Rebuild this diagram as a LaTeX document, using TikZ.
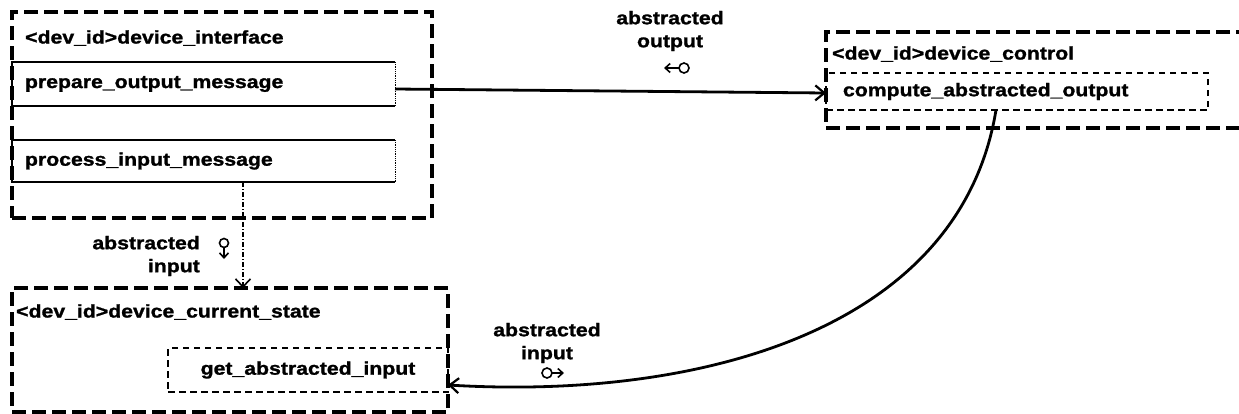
\documentclass[tikz,border=0pt]{standalone}
\usepackage{fontspec}
\setmainfont{Liberation Sans}[FakeStretch=1.16, BoldFeatures={FakeBold=1.3}]
\usetikzlibrary{arrows.meta,calc}
\begin{document}
\begin{tikzpicture}[x=1pt,y=-1pt,
  txt/.style={font=\bfseries\fontsize{18.3}{23}\selectfont, inner sep=0pt},
  outerbox/.style={draw, line width=3.2pt, dash pattern=on 14pt off 6pt, inner sep=0pt, outer sep=0pt, anchor=north west},
  solidbox/.style={txt, inner xsep=13pt, inner ysep=0pt, outer sep=0pt, anchor=north west, align=left},
  dashbox/.style={txt, draw, line width=1.6pt, dash pattern=on 6.5pt off 4.5pt, outer sep=0pt, anchor=north west},
  flow/.style={line width=2.8pt, -{Straight Barb[length=9pt,width=15pt,line width=2.2pt]}},
  ddline/.style={line width=1.1pt, dash pattern=on 5pt off 2pt on 1pt off 2pt, -{Straight Barb[length=8pt,width=15pt,line width=1.6pt]}},
  sym/.style={line width=1.6pt},
  symarrow/.style={line width=1.6pt, -{Straight Barb[length=5pt,width=9pt,line width=1.6pt]}},
  lbl/.style={txt, align=center}
]
\useasboundingbox (0,0) rectangle (1239,413);

% outer dashed boxes
\node[outerbox, minimum width=420pt, minimum height=206pt] (di) at (12,12) {};
\node[outerbox, minimum width=424pt, minimum height=96pt] (dc) at (826,32) {};
\node[outerbox, minimum width=436pt, minimum height=124pt] (cs) at (12,288) {};

% titles
\node[txt, anchor=west] (dititle) at (25,38) {<dev\_id>device\_interface};
\node[txt, anchor=west] (dctitle) at (832,54) {<dev\_id>device\_control};
\node[txt, anchor=west] (cstitle) at (16,312) {<dev\_id>device\_current\_state};

% inner boxes of device_interface
\node[solidbox, text width=357pt, minimum height=44pt] (prepare) at (12,62) {prepare\_output\_message};
\node[solidbox, text width=357pt, minimum height=42pt] (process) at (12,140) {process\_input\_message};
\draw[line width=1.6pt] (prepare.north east) -- (prepare.north west) -- (prepare.south west) -- (prepare.south east);
\draw[line width=0.8pt, densely dotted] (prepare.north east) -- (prepare.south east);
\draw[line width=1.6pt] (process.north east) -- (process.north west) -- (process.south west) -- (process.south east);
\draw[line width=0.8pt, densely dotted] (process.north east) -- (process.south east);

% dashed inner boxes
\node[dashbox, inner xsep=17pt, inner ysep=0pt, text width=348pt, align=left, minimum height=37pt] (compute) at (826,73) {compute\_abstracted\_output};
\node[dashbox, inner sep=0pt, minimum width=280pt, minimum height=44pt] (get) at (168,348) {get\_abstracted\_input};

% connectors
\draw[flow] ([yshift=-5pt]prepare.east) -- ([yshift=-1.5pt]compute.west);
\draw[ddline] ([xshift=231pt]process.south west) -- ([xshift=231pt]cs.north west);
\draw[flow] ([xshift=170pt]compute.south west) .. controls (960,330) and (700,400) .. ([yshift=-15pt]get.east);

% labels
\node[lbl] (lout) at (670,31) {abstracted\\output};
\node[txt, align=right, anchor=east] (lin1) at (200,256) {abstracted\\input};
\node[lbl] (lin2) at (547,343) {abstracted\\input};

% couple symbols
\draw[sym] (684,68) circle[radius=5];
\draw[symarrow] (679,68) -- (664,68);
\draw[sym] (224,243) circle[radius=4.5];
\draw[symarrow] (224,247.5) -- (224,259);
\draw[sym] (547,373) circle[radius=5];
\draw[symarrow] (552,373) -- (564,373);
\end{tikzpicture}
\end{document}
